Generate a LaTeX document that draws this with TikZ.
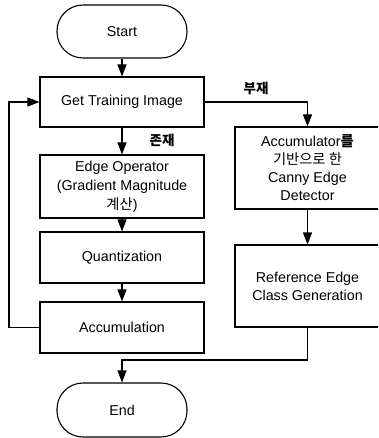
\documentclass[tikz,border=0pt]{standalone}
\usepackage{fontspec}
\setmainfont{Liberation Sans}
\newfontfamily\kr{Noto Sans CJK KR}
\usetikzlibrary{arrows.meta}
\begin{document}
\begin{tikzpicture}[x=1pt,y=-1pt,
  line width=1.1pt,
  every node/.style={font=\fontsize{14.3}{19}\selectfont, align=center, inner sep=0pt},
  box/.style={draw, rectangle, minimum width=164pt},
  rbox/.style={draw, rectangle, minimum width=145pt, minimum height=82pt, font=\fontsize{14.3}{18}\selectfont},
  term/.style={draw, rectangle, rounded corners=26pt, minimum width=130pt},
  arr/.style={-{Triangle[length=12pt,width=9pt]}},
  lbl/.style={font=\kr\bfseries\fontsize{13.5}{16}\selectfont}]
\useasboundingbox (0,0) rectangle (378,438);
\clip (0,0) rectangle (378,438);
\node[term, minimum height=53pt] (start) at (122,31.5) {Start};
\node[box, minimum height=50pt] (get) at (122,102) {Get Training Image};
\node[box, minimum height=63pt] (edge) at (122,186.5) {Edge Operator\\(Gradient Magnitude\\{\kr 계산})};
\node[box, minimum height=51pt] (quant) at (122,257.5) {Quantization};
\node[box, minimum height=51pt] (accum) at (122,327.5) {Accumulation};
\node[rbox] (acc) at (307.5,168) {Accumulator{\kr\bfseries 를}\\{\kr 기반으로 한}\\Canny Edge\\Detector};
\node[rbox] (ref) at (307.5,286) {Reference Edge\\Class Generation};
\node[term, minimum height=54pt] (end) at (122,410) {End};
\coordinate (j) at (122,360);
\coordinate (lp) at (9,327.5);
\draw[arr] (start) -- (get);
\draw[arr] (get.east) -| (acc.north);
\node[lbl] (l1) at (256,88) {부재};
\draw[arr] (get) -- (edge);
\node[lbl] (l2) at (162,140) {존재};
\draw[arr] (edge) -- (quant);
\draw[arr] (quant) -- (accum);
\draw[arr] (accum.west) -- (lp) |- (get.west);
\draw[arr] (acc) -- (ref);
\draw[arr] (ref.south) |- (j) -- (end.north);
\end{tikzpicture}
\end{document}
